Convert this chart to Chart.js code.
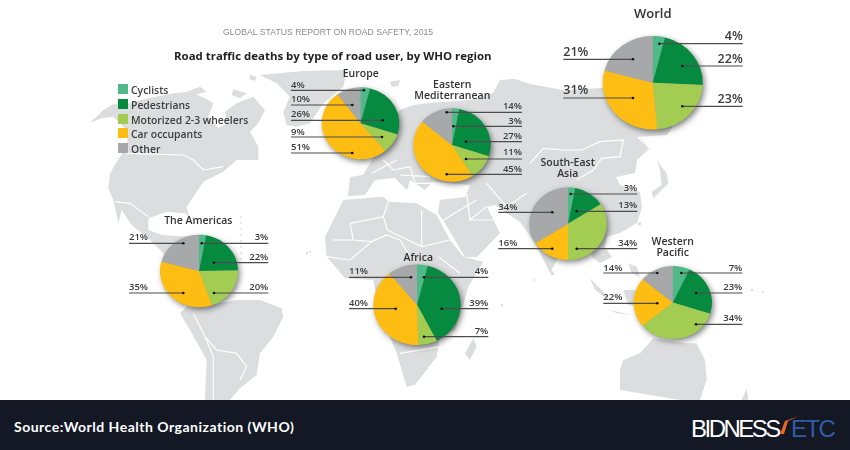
<!DOCTYPE html>
<html><head><meta charset="utf-8">
<script src="https://cdn.jsdelivr.net/npm/chart.js@4"></script>
<style>
html,body{margin:0;padding:0;background:#fff;overflow:hidden}
#stage{position:relative;width:850px;height:450px;overflow:hidden;font-family:"Open Sans",sans-serif;background:#fff;filter:blur(.3px)}
#stage canvas{position:absolute;left:0;top:0}
#map{position:absolute;left:0;top:0;filter:blur(.4px)}
.t{position:absolute;white-space:nowrap;line-height:1}
#sub{left:223px;top:27px;font:8.6px "Liberation Sans",sans-serif;color:#8a8a8a;letter-spacing:.05px}
#ttl{left:174px;top:48px;font:700 11.45px "Open Sans",sans-serif;color:#222}
.sw{position:absolute;left:118px;width:10px;height:10px}
.lg{left:131px;font:600 10.4px "Open Sans",sans-serif;color:#3d3d3d}
#bar{position:absolute;left:0;top:400px;width:850px;height:50px;background:#131824}
#src{left:14px;top:418px;font:700 14px Lato,sans-serif;color:#fff;letter-spacing:.5px}
#biz{left:691px;top:415px;font:400 24px "Liberation Sans",sans-serif;color:#fff;letter-spacing:-2.5px}
#etc{left:791px;top:415px;font:400 24px "Liberation Sans",sans-serif;color:#2f5ea6;letter-spacing:-1.6px}
</style></head><body>
<div id="stage">
<svg id="map" width="850" height="400" viewBox="0 0 850 400">
<g fill="#dcddde" stroke="none">
 <g transform="translate(90 60) scale(.3333)">
  <path d="M0 188L40 150L70 132L100 135L150 120L250 100L300 95L345 115L370 130L355 170L385 205L410 190L405 155L440 130L490 110L525 150L505 190L480 215L505 260L505 300L440 300L400 335L340 365L310 410L290 440L298 472L285 460L230 455L175 475L175 510L215 525L290 530L300 560L240 600L180 540L125 495L95 450L85 490L70 420L55 385L60 340L90 290L110 260L115 215L70 170L35 175Z"/>
  <path d="M290 95L330 80L350 95L310 105Z M430 88L470 100L450 115L425 105Z M480 45L500 50L495 62L478 58Z"/>
  <path d="M510 45L640 33L770 30L760 80L700 130L660 190L620 200L590 195L580 155L600 110L560 70Z"/>
  <path d="M270 760L290 740L310 730L360 735L440 720L510 720L575 745L580 770L550 830L510 880L500 945L450 985L420 1020L345 1020L350 900L300 810Z"/>
 </g>
 <path d="M348 196L350 177L363 175L372 160L380 145L400 110L413 105L430 103L470 100L493 93L500 80L515 79L530 84L563 90L603 88L650 80L690 100L667 135L637 137L648 150L637 160L635 173L616 177L620 185L640 192L642 207L637 223L620 233L607 237L605 247L612 257L600 263L592 257L588 240L570 240L562 250L550 273L535 243L520 222L495 205L487 207L500 233L477 257L465 257L443 220L438 213L440 200L465 197L470 185L432 182L425 190L410 180L407 190L395 178L375 180L365 195Z"/>
 <g transform="translate(300 60) scale(.3333)">
  <path d="M270 65L300 60L295 78L275 80Z"/>
  <path d="M130 420L250 410L265 425L350 430L410 465L450 540L490 590L550 605L505 680L485 750L465 810L420 830L410 890L345 975L320 980L290 880L270 830L235 740L220 660L135 655L80 590L75 530L100 480Z"/>
  <path d="M520 835L530 860L510 900L495 880Z"/>
 </g>
 <g transform="translate(530 60) scale(.3333)">
  <path d="M330 235L360 270L345 265Z"/>
  <path d="M380 300L410 340L415 370L370 415L365 395L395 375L390 330Z"/>
  <path d="M322 490L335 485L330 500Z M65 630L75 645L60 645Z"/>
  <path d="M180 655L215 690L250 730L235 720L195 690Z M240 750L305 765L260 760Z M280 690L330 690L330 740L295 735Z M295 610L320 620L330 650L305 640Z"/>
  <path d="M280 900L330 880L370 835L470 850L500 850L525 900L530 960L510 1020L450 1020L270 990L270 930Z"/>
  <path d="M650 985L655 1020L635 1020Z"/>
 </g>
 <circle cx="307" cy="253" r="1.2"/><circle cx="502" cy="305" r="1.2"/><circle cx="310" cy="252" r="1"/><circle cx="752" cy="290" r="1.2"/><circle cx="763" cy="292" r="1"/><circle cx="534" cy="280" r="1"/><circle cx="609" cy="97" r="0"/>
</g>
<path d="M241 216V260" stroke="#dcddde" stroke-width="1.6" stroke-dasharray="1.6 4.4" fill="none"/>
<g fill="none" stroke="#fff" stroke-width="1">
 <g transform="translate(90 60) scale(.3333)" stroke-width="3.5">
  <path d="M110 280L280 285L310 300L340 330L400 320M75 425L120 430L175 470M310 760L345 830L380 870L440 880L470 920L450 960M345 830L370 890L370 1020"/>
 </g>
 <g transform="translate(300 60) scale(.3333)" stroke-width="3.5">
  <path d="M150 490L250 470L262 510L365 560L365 450M150 490L160 540L215 545L260 525L300 540L330 590M100 540L160 540M80 590L150 600L215 545M265 425L250 470M450 540L365 560M415 590L480 640M430 700L485 750M300 880L420 860M500 400L510 480L590 480M510 480L560 440M430 480L530 420"/>
  <path d="M250 300L280 330L330 320L345 370M215 340L290 300M300 345L390 350M560 370L620 440L680 400M470 410L500 400M345 370L400 370"/>
 </g>
 <g transform="translate(530 60) scale(.3333)" stroke-width="3.5">
  <path d="M0 310L40 265L100 270L155 270L210 245L280 240L270 290L215 295L190 330L140 360"/>
 </g>
</g>
</svg>

<div class="t" id="sub">GLOBAL STATUS REPORT ON ROAD SAFETY, 2015</div>
<div class="t" id="ttl">Road traffic deaths by type of road user, by WHO region</div>
<div id="legend"></div>
<div id="bar"></div>
<div class="t" id="src">Source:World Health Organization (WHO)</div>
<div class="t" id="biz">BIDNESS</div><div class="t" id="etc">ETC</div>
<svg style="position:absolute;left:775px;top:410px" width="30" height="30"><path d="M5 24L10 11L24 6L13 11L9 24Z" fill="#e8662a"/></svg>
</div>
<script>
const categories = ["Cyclists","Pedestrians","Motorized 2-3 wheelers","Car occupants","Other"];
const colours = ["#4fb987","#068a40","#a2cd52","#fdbd13","#a7a8aa"];
const world = [4,22,23,31,21];
const europe = [4,26,9,51,10];
const easternMediterranean = [3,27,11,45,14];
const southEastAsia = [3,13,34,16,34];
const westernPacific = [7,23,34,22,14];
const theAmericas = [3,22,20,35,21];
const africa = [4,39,7,40,11];

// Layout only: pie centre and radii, heading, leader end points and per-slice label rows.
// rows: [slice index, text y, line y, dot x, side]
const pies = [
 {data:world, name:["World"], nx:652.7, ny:[14.7], nf:13, vf:12.5, cx:652.7, cy:82.7, rx:50, ry:46.7, left:563.3, right:742.7,
  rows:[[0,36.7,43.7,659.3,"R"],[1,59.3,66,682.3,"R"],[2,99.7,106.3,682.3,"R"],[4,52.7,59.3,633,"L"],[3,90.7,98,633,"L"]]},
 {data:europe, name:["Europe"], nx:360.7, ny:[74], nf:10.5, vf:9.5, cx:360.5, cy:123.3, rx:38.8, ry:36, left:291, right:0,
  rows:[[0,85,90.3,364,"L"],[4,99.7,105,352.3,"L"],[1,114.7,120.3,382.7,"L"],[2,132.3,137,382,"L"],[3,147,153,352.3,"L"]]},
 {data:easternMediterranean, name:["Eastern","Mediterranean"], nx:452.3, ny:[84.7,95.7], nf:10.5, vf:9.5, cx:452, cy:145, rx:38.7, ry:36.7, left:0, right:522,
  rows:[[4,106.7,112.3,446.7,"R"],[0,121,126.3,453.3,"R"],[1,136,141.7,466,"R"],[2,152.7,159,466,"R"],[3,169,174.3,446.7,"R"]]},
 {data:southEastAsia, name:["South-East","Asia"], nx:567.7, ny:[163,173.7], nf:10.5, vf:9.5, cx:568, cy:223.7, rx:38.7, ry:36.3, left:498.3, right:637.3,
  rows:[[4,207,212.3,552.3,"L"],[3,243.7,248.7,552.3,"L"],[0,188.7,194,570.7,"R"],[1,205.7,211.3,576.7,"R"],[2,243.3,248.7,576.7,"R"]]},
 {data:westernPacific, name:["Western","Pacific"], nx:672.7, ny:[242.3,253], nf:10.5, vf:9.5, cx:672.8, cy:302.5, rx:39.2, ry:36.5, left:603.3, right:742.3,
  rows:[[4,268,273,657.3,"L"],[3,297.7,303.3,657.3,"L"],[0,268,273,681.3,"R"],[1,287.7,293,696,"R"],[2,318.7,324.3,696,"R"]]},
 {data:theAmericas, name:["The Americas"], nx:198.3, ny:[221.3], nf:10.5, vf:9.5, cx:199, cy:271, rx:39, ry:36.3, left:129, right:268.3,
  rows:[[4,237.7,243.3,183.3,"L"],[3,287.7,293,183.3,"L"],[0,237.7,243.3,201.7,"R"],[1,257.3,262.7,214,"R"],[2,287.7,293,214,"R"]]},
 {data:africa, name:["Africa"], nx:418.3, ny:[257.7], nf:10.5, vf:9.5, cx:417, cy:304.7, rx:43.7, ry:40.3, left:349, right:488.3,
  rows:[[4,271.7,277.3,411,"L"],[3,303.7,308.7,395.7,"L"],[0,271.7,277.3,424,"R"],[1,303.7,308.7,441.7,"R"],[2,331,336.7,424,"R"]]}
];
const W = 850, H = 400;
const stage = document.getElementById("stage");

// legend
const legendY = [84,99,113.5,128,142.5];
categories.forEach((c,i)=>{
  const s=document.createElement("div"); s.className="sw"; s.style.top=legendY[i]+"px"; s.style.background=colours[i]; stage.appendChild(s);
  const t=document.createElement("div"); t.className="t lg"; t.style.top=(legendY[i]-.8)+"px"; t.textContent=c; stage.appendChild(t);
});

const piePlugin = {
  id:"piePlugin",
  beforeDatasetsDraw(chart,args,o){
    const p=o.pie, c=chart.ctx;
    c.save();
    c.translate(0,p.cy); c.scale(1,p.ry/p.rx); c.translate(0,-p.cy);
    c.save();
    c.shadowColor="rgba(0,0,0,.55)"; c.shadowBlur=6; c.shadowOffsetX=2; c.shadowOffsetY=2.5;
    c.fillStyle="#999"; c.beginPath(); c.arc(p.cx,p.cy,p.rx-.5,0,Math.PI*2); c.fill();
    c.restore();
  },
  afterDatasetsDraw(chart,args,o){
    const p=o.pie, c=chart.ctx;
    c.restore();
    c.save();
    p.rows.forEach(([i,ty,ly,dx,side])=>{
      const end = side==="L" ? p.left : p.right;
      c.strokeStyle="#4d4d4d"; c.lineWidth=1.2;
      c.beginPath(); c.moveTo(end,ly); c.lineTo(dx,ly); c.stroke();
      c.fillStyle="#111"; c.beginPath(); c.arc(dx,ly,1.3,0,Math.PI*2); c.fill();
      c.fillStyle="#3b3b3b"; c.font=`600 ${p.vf}px "Open Sans"`;
      c.textBaseline="middle"; c.textAlign = side==="L"?"left":"right";
      c.fillText(p.data[i]+"%",end,ty);
    });
    c.fillStyle="#333"; c.font=`600 ${p.nf}px "Open Sans"`; c.textAlign="center"; c.textBaseline="middle";
    p.name.forEach((n,k)=>c.fillText(n,p.nx,p.ny[k]));
    c.restore();
  }
};

pies.forEach(p=>{
  const cv=document.createElement("canvas"); cv.width=W; cv.height=H;
  cv.style.width=W+"px"; cv.style.height=H+"px";
  stage.insertBefore(cv,document.getElementById("sub"));
  new Chart(cv,{
    type:"pie",
    data:{labels:categories,datasets:[{data:p.data,backgroundColor:colours,borderWidth:0}]},
    options:{
      responsive:false,animation:false,events:[],
      layout:{padding:{left:p.cx-p.rx,right:W-p.cx-p.rx,top:p.cy-p.rx,bottom:H-p.cy-p.rx}},
      plugins:{legend:{display:false},tooltip:{enabled:false},title:{display:false},piePlugin:{pie:p}}
    },
    plugins:[piePlugin]
  });
});
</script>
</body></html>
